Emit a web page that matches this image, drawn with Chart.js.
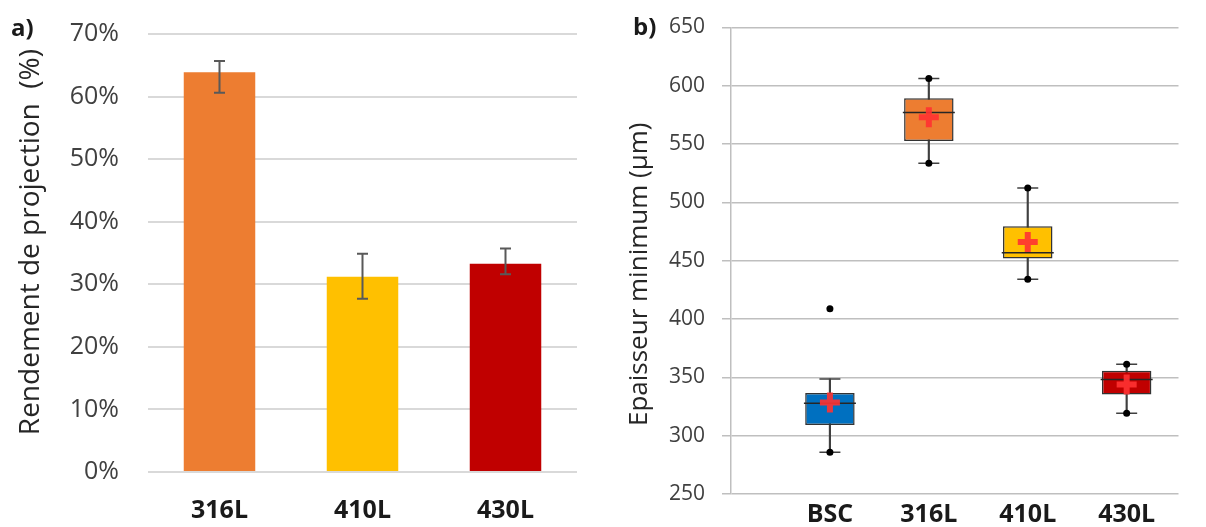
<!DOCTYPE html>
<html>
<head>
<meta charset="utf-8">
<script src="https://cdn.jsdelivr.net/npm/chart.js@4.4.1/dist/chart.umd.min.js"></script>
<style>
  html, body { margin: 0; padding: 0; background: #fff; }
  #wrap { position: relative; width: 1206px; height: 527px; overflow: hidden; font-family: 'Open Sans', sans-serif; }
  #left { position: absolute; left: 0; top: 0; }
  #right { position: absolute; left: 600px; top: 0; }
  .tag { position: absolute; font-weight: bold; font-size: 24px; line-height: 24px; color: #1a1a1a; }
</style>
</head>
<body>
<div id="wrap">
  <canvas id="left" width="600" height="527"></canvas>
  <canvas id="right" width="606" height="527"></canvas>
  <div class="tag" style="left:11px; top:15px;">a)</div>
  <div class="tag" style="left:633px; top:14px;">b)</div>
</div>
<script>
// a) rendement de projection
const alloys = ['316L', '410L', '430L'];
const yieldPct = [63.9, 31.2, 33.3];
const yieldErrHigh = [65.7, 34.9, 35.7];
const yieldErrLow = [60.6, 27.7, 31.6];
const alloyColors = ['#ED7D31', '#FFC000', '#C00000'];

// b) epaisseur minimum (box plot)
const boxLabels = ['BSC', '316L', '410L', '430L'];
const boxPos = [1, 2, 3, 4];
const q1 = [309.1, 552.7, 451.9, 335.4];
const q3 = [336.5, 589.3, 479.5, 355.6];
const median = [327.9, 577.2, 456.9, 348.1];
const mean = [328.4, 573.0, 466.0, 343.9];
const whiskerLow = [285.8, 533.5, 434.1, 319.2];
const whiskerHigh = [348.7, 606.2, 512.4, 361.3];
const dotPos = [1, 1, 2, 2, 3, 3, 4, 4];
const dotValue = [285.8, 408.9, 533.5, 606.2, 434.1, 512.4, 319.2, 361.3];
const boxColors = ['#0070C0', '#ED7D31', '#FFC000', '#C00000'];

Chart.defaults.font.family = "'Open Sans', sans-serif";
Chart.defaults.color = '#404040';
Chart.defaults.animation = false;
Chart.defaults.events = [];
Chart.defaults.plugins.legend.display = false;
Chart.defaults.plugins.tooltip.enabled = false;

const errorBars = {
  id: 'errorBars',
  afterDatasetsDraw(chart) {
    const {ctx, scales: {x, y}} = chart;
    ctx.save();
    ctx.strokeStyle = '#595959';
    ctx.lineWidth = 2;
    alloys.forEach((a, i) => {
      const px = x.getPixelForValue(i);
      const top = y.getPixelForValue(yieldErrHigh[i]);
      const bot = y.getPixelForValue(yieldErrLow[i]);
      ctx.beginPath();
      ctx.moveTo(px, top); ctx.lineTo(px, bot);
      ctx.moveTo(px - 5.5, top); ctx.lineTo(px + 5.5, top);
      ctx.moveTo(px - 5.5, bot); ctx.lineTo(px + 5.5, bot);
      ctx.stroke();
    });
    ctx.restore();
  }
};

// tick padding would otherwise push the plot area down
function fixYAxis(width) {
  return s => { s.width = width; s.paddingTop = 0; s.paddingBottom = 0; };
}

new Chart(document.getElementById('left'), {
  type: 'bar',
  data: {
    labels: alloys,
    datasets: [{
      data: yieldPct,
      backgroundColor: alloyColors,
      barPercentage: 0.5,
      categoryPercentage: 1
    }]
  },
  options: {
    responsive: false,
    layout: { padding: { top: 34, right: 23, bottom: 0, left: 0 } },
    scales: {
      x: {
        grid: { display: false },
        border: { display: false },
        ticks: { padding: 16, color: '#1a1a1a', font: { size: 25, weight: 'bold' } },
        afterFit(s) { s.height = 55; }
      },
      y: {
        min: 0, max: 70,
        grid: { color: '#D9D9D9', lineWidth: 2, drawTicks: false },
        border: { display: false },
        ticks: { stepSize: 10, padding: 29, font: { size: 25 }, callback: v => v + '%' },
        title: {
          display: true,
          text: '\u00a0\u00a0\u00a0Rendement de projection  (%)',
          color: '#262626',
          font: { size: 28 },
          padding: { top: 14 }
        },
        afterFit: fixYAxis(148)
      }
    }
  },
  plugins: [errorBars]
});

new Chart(document.getElementById('right'), {
  type: 'bar',
  data: {
    datasets: [
      {
        type: 'scatter',
        data: mean.map((v, i) => ({x: boxPos[i], y: v})),
        pointStyle: 'cross',
        pointRadius: 10,
        borderWidth: 6,
        borderColor: 'rgba(255, 50, 50, 0.9)',
        order: 1
      },
      {
        type: 'scatter',
        data: dotValue.map((v, i) => ({x: dotPos[i], y: v})),
        pointStyle: 'circle',
        pointRadius: 3.5,
        backgroundColor: '#000',
        borderColor: '#000',
        borderWidth: 0,
        order: 2
      },
      {
        type: 'scatter',
        data: median.map((v, i) => ({x: boxPos[i], y: v})),
        pointStyle: 'line',
        pointRadius: 26,
        borderWidth: 1.5,
        borderColor: '#262626',
        order: 3
      },
      {
        type: 'scatter',
        data: whiskerLow.concat(whiskerHigh).map((v, i) => ({x: boxPos[i % 4], y: v})),
        pointStyle: 'line',
        pointRadius: 10.5,
        borderWidth: 1.5,
        borderColor: '#404040',
        order: 3
      },
      {
        data: q1.map((v, i) => ({x: boxPos[i], y: [v, q3[i]]})),
        backgroundColor: boxColors,
        borderColor: '#333333',
        borderWidth: 1.5,
        borderSkipped: false,
        grouped: false,
        barPercentage: 0.5,
        categoryPercentage: 1,
        order: 4
      },
      {
        data: whiskerLow.map((v, i) => ({x: boxPos[i], y: [v, whiskerHigh[i]]})),
        backgroundColor: '#404040',
        barThickness: 1.5,
        grouped: false,
        order: 5
      }
    ]
  },
  options: {
    responsive: false,
    layout: { padding: { top: 21, right: 0, bottom: 0, left: 0 } },
    scales: {
      x: {
        type: 'linear',
        offset: false,
        min: 0, max: 4.524,
        grid: { display: false },
        border: { display: false },
        afterBuildTicks(s) { s.ticks = boxPos.map(v => ({value: v})); },
        ticks: {
          padding: -2, color: '#1a1a1a', font: { size: 25, weight: 'bold' },
          callback: v => boxLabels[boxPos.indexOf(v)] || ''
        },
        afterFit(s) { s.height = 33; }
      },
      y: {
        min: 250, max: 650,
        grid: { color: '#BFBFBF', lineWidth: 1.5, tickLength: 9 },
        border: { display: true, color: '#BFBFBF', width: 1.5 },
        ticks: { stepSize: 50, padding: 17, font: { size: 21 } },
        title: {
          display: true,
          text: 'Epaisseur minimum (µm)\u00a0\u00a0\u00a0\u00a0',
          color: '#262626',
          font: { size: 26 },
          padding: { top: 24 }
        },
        afterFit: fixYAxis(131)
      }
    }
  }
});
</script>
</body>
</html>
